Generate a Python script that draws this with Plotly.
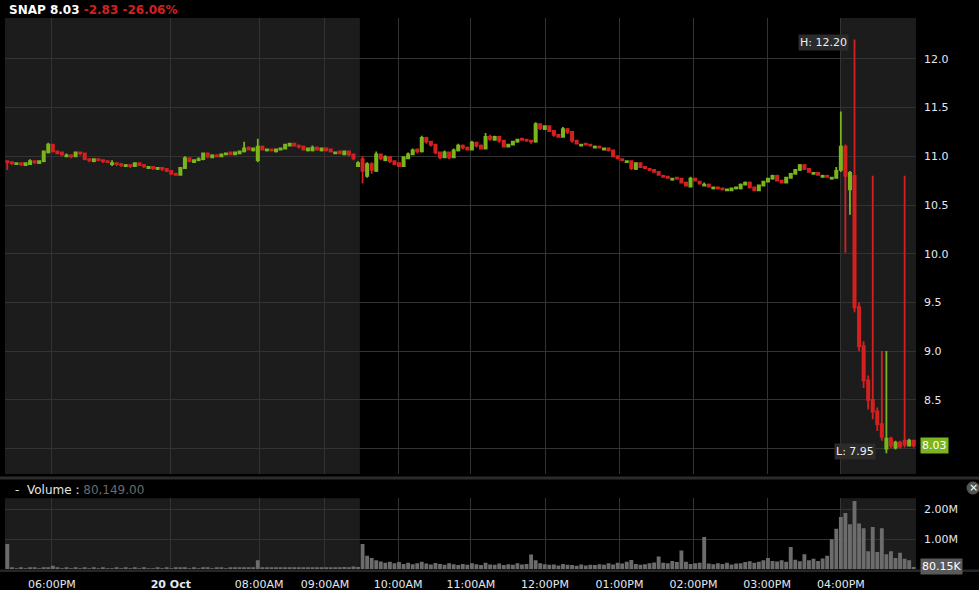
import plotly.graph_objects as go

# ---------------- data (one slot ~ a few minutes) ----------------
opens = [
    10.95, 10.94, 10.92, 10.93, 10.91, 10.92, 10.95, 10.93, 10.95, 11.04,
    11.12, 11.05, 11.04, 11.00, 11.01, 11.00, 11.04, 11.03, 10.97, 10.95,
    10.97, 10.96, 10.95, 10.92, 10.93, 10.92, 10.90, 10.91, 10.90, 10.93,
    10.91, 10.88, 10.89, 10.87, 10.88, 10.87, 10.85, 10.82, 10.81, 10.88,
    10.98, 10.94, 10.96, 10.97, 11.03, 10.99, 11.01, 11.00, 11.02, 11.04,
    11.02, 11.03, 11.05, 11.09, 11.06, 10.96, 11.10, 11.06, 11.07, 11.05,
    11.07, 11.08, 11.11, 11.13, 11.11, 11.10, 11.06, 11.06, 11.09, 11.06,
    11.08, 11.07, 11.03, 11.05, 11.02, 11.05, 11.02, 10.90, 10.97, 10.80,
    10.92, 10.85, 11.02, 10.96, 10.99, 10.95, 10.93, 10.90, 10.98, 11.02,
    11.07, 11.05, 11.19, 11.15, 11.12, 11.04, 10.99, 11.04, 10.99, 11.06,
    11.11, 11.09, 11.07, 11.14, 11.11, 11.08, 11.20, 11.17, 11.20, 11.16,
    11.10, 11.12, 11.15, 11.18, 11.17, 11.16, 11.15, 11.33, 11.28, 11.31,
    11.26, 11.22, 11.20, 11.28, 11.25, 11.16, 11.11, 11.13, 11.12, 11.09,
    11.10, 11.07, 11.08, 11.06, 11.00, 10.97, 10.94, 10.95, 10.87, 10.93,
    10.89, 10.87, 10.86, 10.84, 10.80, 10.79, 10.76, 10.78, 10.77, 10.73,
    10.69, 10.77, 10.74, 10.70, 10.71, 10.67, 10.68, 10.67, 10.65, 10.65,
    10.67, 10.67, 10.71, 10.73, 10.68, 10.65, 10.70, 10.74, 10.77, 10.80,
    10.75, 10.73, 10.78, 10.82, 10.86, 10.91, 10.87, 10.82, 10.83, 10.79,
    10.80, 10.77, 10.78, 10.86, 11.10, 10.66, 10.80, 9.45, 9.05, 8.70,
    8.50, 8.38, 8.25, 8.00, 8.10, 8.01, 8.06, 8.08, 8.03, 8.08,
]
highs = [
    10.96, 10.95, 10.94, 10.94, 10.94, 10.97, 10.96, 10.96, 11.06, 11.14,
    11.13, 11.06, 11.05, 11.03, 11.02, 11.05, 11.05, 11.04, 10.98, 10.98,
    10.98, 10.97, 10.96, 10.96, 10.94, 10.93, 10.92, 10.92, 10.94, 10.94,
    10.92, 10.90, 10.90, 10.89, 10.89, 10.88, 10.86, 10.83, 10.89, 11.00,
    10.99, 10.97, 10.99, 11.04, 11.04, 11.02, 11.02, 11.03, 11.04, 11.05,
    11.05, 11.06, 11.15, 11.10, 11.09, 11.18, 11.11, 11.08, 11.08, 11.08,
    11.09, 11.13, 11.14, 11.14, 11.12, 11.11, 11.09, 11.11, 11.10, 11.09,
    11.09, 11.08, 11.05, 11.06, 11.06, 11.06, 11.03, 10.95, 11.00, 10.94,
    10.94, 11.05, 11.03, 11.01, 11.00, 10.96, 10.94, 11.00, 11.04, 11.08,
    11.08, 11.21, 11.20, 11.16, 11.13, 11.05, 11.06, 11.05, 11.08, 11.13,
    11.12, 11.10, 11.16, 11.15, 11.12, 11.24, 11.22, 11.21, 11.21, 11.17,
    11.13, 11.16, 11.18, 11.19, 11.18, 11.17, 11.35, 11.34, 11.32, 11.32,
    11.27, 11.23, 11.30, 11.29, 11.26, 11.17, 11.13, 11.14, 11.13, 11.11,
    11.11, 11.09, 11.09, 11.07, 11.01, 10.98, 10.96, 10.96, 10.94, 10.94,
    10.90, 10.88, 10.87, 10.85, 10.81, 10.80, 10.78, 10.79, 10.78, 10.74,
    10.79, 10.78, 10.75, 10.73, 10.72, 10.69, 10.69, 10.68, 10.67, 10.68,
    10.69, 10.72, 10.74, 10.74, 10.69, 10.71, 10.75, 10.78, 10.81, 10.81,
    10.76, 10.79, 10.83, 10.87, 10.92, 10.92, 10.88, 10.84, 10.84, 10.81,
    10.81, 10.79, 10.89, 11.46, 11.12, 10.85, 12.20, 9.50, 9.10, 8.75,
    10.80, 8.42, 9.00, 9.00, 8.12, 8.08, 8.08, 10.80, 8.10, 8.09,
]
lows = [
    10.86, 10.91, 10.91, 10.90, 10.90, 10.91, 10.92, 10.92, 10.94, 11.03,
    11.04, 11.02, 11.00, 10.99, 10.98, 10.99, 11.01, 10.96, 10.94, 10.94,
    10.95, 10.93, 10.93, 10.90, 10.90, 10.89, 10.89, 10.88, 10.89, 10.90,
    10.88, 10.87, 10.86, 10.86, 10.85, 10.84, 10.81, 10.80, 10.80, 10.87,
    10.94, 10.93, 10.95, 10.96, 10.98, 10.98, 10.99, 10.99, 11.01, 11.01,
    11.01, 11.02, 11.04, 11.06, 11.05, 10.94, 11.06, 11.05, 11.05, 11.04,
    11.06, 11.07, 11.10, 11.10, 11.08, 11.06, 11.05, 11.05, 11.06, 11.05,
    11.05, 11.04, 11.02, 11.02, 11.01, 11.00, 10.96, 10.89, 10.72, 10.78,
    10.82, 10.84, 10.96, 10.95, 10.93, 10.91, 10.89, 10.89, 10.97, 11.01,
    11.03, 11.04, 11.13, 11.10, 11.02, 10.97, 10.98, 10.97, 10.98, 11.05,
    11.07, 11.06, 11.06, 11.09, 11.07, 11.07, 11.16, 11.16, 11.14, 11.09,
    11.09, 11.11, 11.14, 11.16, 11.15, 11.13, 11.14, 11.27, 11.27, 11.25,
    11.20, 11.19, 11.19, 11.23, 11.14, 11.12, 11.10, 11.11, 11.10, 11.08,
    11.08, 11.06, 11.05, 10.99, 10.97, 10.95, 10.93, 10.86, 10.86, 10.88,
    10.87, 10.85, 10.83, 10.80, 10.78, 10.77, 10.75, 10.76, 10.72, 10.69,
    10.68, 10.74, 10.71, 10.69, 10.68, 10.66, 10.66, 10.65, 10.64, 10.64,
    10.66, 10.66, 10.70, 10.67, 10.64, 10.64, 10.69, 10.73, 10.76, 10.74,
    10.72, 10.72, 10.77, 10.81, 10.85, 10.86, 10.83, 10.81, 10.80, 10.78,
    10.78, 10.76, 10.77, 10.84, 10.01, 10.40, 9.40, 9.00, 8.62, 8.40,
    8.30, 8.18, 8.08, 7.95, 8.00, 7.99, 8.00, 8.01, 8.02, 8.01,
]
closes = [
    10.94, 10.93, 10.93, 10.92, 10.93, 10.95, 10.94, 10.95, 11.05, 11.12,
    11.05, 11.03, 11.02, 11.01, 11.00, 11.04, 11.03, 10.97, 10.96, 10.97,
    10.96, 10.95, 10.94, 10.93, 10.92, 10.91, 10.91, 10.90, 10.93, 10.91,
    10.90, 10.89, 10.88, 10.88, 10.87, 10.85, 10.82, 10.81, 10.88, 10.98,
    10.95, 10.96, 10.97, 11.03, 11.00, 11.01, 11.00, 11.02, 11.03, 11.02,
    11.04, 11.05, 11.08, 11.07, 11.08, 11.10, 11.07, 11.07, 11.06, 11.07,
    11.08, 11.12, 11.13, 11.11, 11.10, 11.07, 11.08, 11.09, 11.07, 11.08,
    11.06, 11.05, 11.04, 11.03, 11.05, 11.02, 10.98, 10.93, 10.85, 10.92,
    10.86, 11.02, 10.98, 10.99, 10.95, 10.92, 10.90, 10.99, 11.02, 11.06,
    11.05, 11.19, 11.15, 11.12, 11.04, 10.99, 11.04, 10.99, 11.06, 11.11,
    11.09, 11.07, 11.14, 11.11, 11.08, 11.20, 11.18, 11.20, 11.16, 11.10,
    11.12, 11.15, 11.17, 11.17, 11.16, 11.15, 11.33, 11.29, 11.31, 11.26,
    11.22, 11.20, 11.28, 11.25, 11.16, 11.13, 11.12, 11.12, 11.11, 11.10,
    11.09, 11.08, 11.06, 11.00, 10.98, 10.96, 10.95, 10.88, 10.93, 10.89,
    10.88, 10.86, 10.84, 10.81, 10.79, 10.78, 10.77, 10.77, 10.73, 10.70,
    10.77, 10.75, 10.72, 10.71, 10.69, 10.68, 10.67, 10.66, 10.66, 10.67,
    10.68, 10.71, 10.73, 10.68, 10.65, 10.70, 10.74, 10.77, 10.80, 10.75,
    10.73, 10.78, 10.82, 10.86, 10.91, 10.87, 10.84, 10.83, 10.81, 10.80,
    10.79, 10.78, 10.85, 11.10, 10.80, 10.83, 9.45, 9.05, 8.70, 8.50,
    8.38, 8.25, 8.12, 8.10, 8.03, 8.06, 8.02, 8.04, 8.08, 8.03,
]
volumes_m = [
    0.84, 0.05, 0.03, 0.04, 0.03, 0.05, 0.04, 0.03, 0.04, 0.05,
    0.12, 0.04, 0.03, 0.05, 0.03, 0.04, 0.03, 0.04, 0.03, 0.05,
    0.03, 0.04, 0.03, 0.03, 0.04, 0.03, 0.05, 0.03, 0.04, 0.03,
    0.04, 0.03, 0.03, 0.04, 0.03, 0.04, 0.03, 0.04, 0.05, 0.04,
    0.03, 0.04, 0.03, 0.05, 0.04, 0.03, 0.04, 0.05, 0.03, 0.04,
    0.04, 0.05, 0.06, 0.04, 0.05, 0.30, 0.05, 0.04, 0.06, 0.05,
    0.04, 0.06, 0.05, 0.04, 0.05, 0.06, 0.05, 0.04, 0.06, 0.05,
    0.06, 0.05, 0.07, 0.06, 0.08, 0.07, 0.09, 0.08, 0.84, 0.45,
    0.38, 0.30, 0.26, 0.22, 0.25, 0.20, 0.24, 0.18, 0.22, 0.17,
    0.20, 0.25, 0.19, 0.16, 0.21, 0.18, 0.15, 0.20, 0.17, 0.14,
    0.18, 0.15, 0.20, 0.17, 0.14, 0.22, 0.16, 0.15, 0.19, 0.14,
    0.17, 0.15, 0.20, 0.16, 0.18, 0.49, 0.30, 0.20, 0.17, 0.15,
    0.16, 0.13, 0.18, 0.15, 0.14, 0.12, 0.16, 0.13, 0.15, 0.14,
    0.17, 0.15, 0.20, 0.16, 0.22, 0.19, 0.25, 0.31, 0.18, 0.15,
    0.17, 0.20, 0.23, 0.43, 0.22, 0.20, 0.28, 0.24, 0.63, 0.25,
    0.18, 0.20, 0.22, 1.08, 0.19, 0.17, 0.20, 0.18, 0.22, 0.16,
    0.19, 0.20, 0.24, 0.27, 0.22, 0.25, 0.30, 0.38, 0.28, 0.26,
    0.30, 0.25, 0.74, 0.32, 0.27, 0.50, 0.30, 0.35, 0.28, 0.36,
    0.45, 1.00, 1.35, 1.74, 1.88, 1.50, 2.28, 1.53, 1.37, 0.60,
    1.41, 0.58, 1.37, 0.50, 0.60, 0.38, 0.55, 0.35, 0.30, 0.08,
]

# time-axis labels and where they fall in the slot sequence
tick_pos = [9.8, 35.9, 55.3, 69.75, 85.8, 101.8, 118.05, 134.4, 150.65, 166.8, 183.0]
tick_text = ["06:00PM", "<b>20 Oct</b>", "08:00AM", "09:00AM", "10:00AM", "11:00AM",
             "12:00PM", "01:00PM", "02:00PM", "03:00PM", "04:00PM"]
pre_market_end = 77.4      # 09:30AM
post_market_start = 183.0  # 04:00PM

price_ticks = [8.0, 8.5, 9.0, 9.5, 10.0, 10.5, 11.0, 11.5, 12.0]
vol_ticks = [1.0, 2.0]
vol_tick_text = ["1.00M", "2.00M"]

symbol = "SNAP"
last_price = 8.03
change = -2.83
change_pct = -26.06
last_volume = 80149

assert len(opens) == len(highs) == len(lows) == len(closes) == len(volumes_m) == 200

# ---------------- styling ----------------
W, H = 979, 590
GREEN = "#7ab51d"
RED = "#d42020"
GRID = "#333333"
SHADE = "#1c1c1c"
TXT = "#e2e8f0"
FONT = "DejaVu Sans"


def px(x):
    return x / W


def py(y):
    return 1 - y / H


x_idx = list(range(len(closes)))
n = len(closes)

fig = go.Figure()
fig.add_trace(go.Candlestick(
    x=x_idx, open=opens, high=highs, low=lows, close=closes,
    increasing=dict(line=dict(color=GREEN, width=1.8), fillcolor=GREEN),
    decreasing=dict(line=dict(color=RED, width=1.8), fillcolor=RED),
    whiskerwidth=0, xaxis="x", yaxis="y", hoverinfo="skip", showlegend=False,
))
fig.add_trace(go.Bar(
    x=x_idx, y=volumes_m, marker=dict(color="#6c6c6c", line=dict(width=0)),
    xaxis="x2", yaxis="y2", hoverinfo="skip", showlegend=False,
))

xdom = [px(5), px(916)]
main_dom = [py(474), py(18)]
vol_dom = [py(569.3), py(498.3)]
ylo = 11 - (474 - 156.3) / 97.4
yhi = 11 - (18 - 156.3) / 97.4

shapes = []
for yref in ("y domain", "y2 domain"):
    shapes.append(dict(type="rect", xref="x", yref=yref, x0=-0.5, x1=pre_market_end, y0=0, y1=1,
                       fillcolor=SHADE, line=dict(width=0), layer="below"))
    shapes.append(dict(type="rect", xref="x", yref=yref, x0=post_market_start, x1=n - 0.5, y0=0, y1=1,
                       fillcolor=SHADE, line=dict(width=0), layer="below"))
# panel separators
shapes.append(dict(type="rect", xref="paper", yref="paper", x0=0, x1=1, y0=py(479.5), y1=py(476.5),
                   fillcolor="#2c2c2c", line=dict(width=0)))
shapes.append(dict(type="rect", xref="paper", yref="paper", x0=0, x1=1, y0=py(572), y1=py(569.5),
                   fillcolor="#262626", line=dict(width=0)))
# close button
shapes.append(dict(type="circle", xref="paper", yref="paper", x0=px(966.5), x1=px(979.5),
                   y0=py(494.5), y1=py(481.5), fillcolor="#555555", line=dict(width=0)))

i_hi = max(range(n), key=lambda i: highs[i])
i_lo = min(range(n), key=lambda i: lows[i])

annotations = [
    dict(xref="paper", yref="paper", x=px(7), y=py(9.5), xanchor="left", yanchor="middle",
         showarrow=False,
         text=f"<b>{symbol} {last_price:.2f} <span style='color:{RED}'>{change:.2f} {change_pct:.2f}%</span></b>",
         font=dict(family=FONT, size=12, color="#ffffff")),
    dict(xref="paper", yref="paper", x=px(13), y=py(490), xanchor="left", yanchor="middle",
         showarrow=False,
         text=f"-  Volume : <span style='color:#6a6a6a'>{last_volume:,.2f}</span>",
         font=dict(family=FONT, size=12, color="#e6e6e6")),
    dict(xref="x", yref="y", x=i_hi, y=highs[i_hi], xanchor="right", yanchor="middle",
         xshift=-6, yshift=-3, showarrow=False, text=f"H: {highs[i_hi]:.2f}",
         bgcolor="#2b2b2b", borderpad=1, font=dict(family=FONT, size=11, color="#eeeeee")),
    dict(xref="x", yref="y", x=i_lo, y=lows[i_lo], xanchor="right", yanchor="middle",
         xshift=-10, yshift=2, showarrow=False, text=f"L: {lows[i_lo]:.2f}",
         bgcolor="#2b2b2b", borderpad=1, font=dict(family=FONT, size=11, color="#eeeeee")),
    dict(xref="paper", yref="y", x=px(920), y=last_price, xanchor="left", yanchor="middle",
         showarrow=False, text=f"{last_price:.2f}", bgcolor=GREEN, borderpad=1,
         font=dict(family=FONT, size=11, color="#ffffff")),
    dict(xref="paper", yref="y2", x=px(920), y=last_volume / 1e6, xanchor="left", yanchor="middle",
         showarrow=False, text=f"{last_volume / 1000:.2f}K", bgcolor="#5a5a5a", borderpad=1,
         font=dict(family=FONT, size=11, color="#ffffff")),
    dict(xref="paper", yref="paper", x=px(973), y=py(488), xanchor="center", yanchor="middle",
         showarrow=False, text="×", font=dict(family=FONT, size=11, color="#ffffff")),
]

# the 8.0 label is hidden under the last-price box in the reference
price_tick_text = ["" if abs(v - 8.0) < 1e-9 else f"{v:.1f}" for v in price_ticks]

fig.update_layout(
    width=W, height=H, margin=dict(l=0, r=0, t=0, b=0),
    paper_bgcolor="#000000", plot_bgcolor="#000000",
    showlegend=False, bargap=0.15, hovermode=False,
    shapes=shapes, annotations=annotations,
    xaxis=dict(domain=xdom, anchor="y", range=[-0.5, n - 0.5], tickvals=tick_pos,
               showticklabels=False, showgrid=True, gridcolor=GRID, gridwidth=1,
               zeroline=False, showline=False, ticks="", rangeslider=dict(visible=False),
               fixedrange=True),
    yaxis=dict(domain=main_dom, anchor="x", range=[ylo, yhi], side="right",
               tickvals=price_ticks, ticktext=price_tick_text,
               showgrid=True, gridcolor=GRID, gridwidth=1, zeroline=False, showline=False,
               ticks="", ticklabelstandoff=7, tickfont=dict(family=FONT, size=11, color=TXT),
               fixedrange=True),
    xaxis2=dict(domain=xdom, anchor="y2", matches="x", range=[-0.5, n - 0.5],
                tickvals=tick_pos, ticktext=tick_text, showgrid=True, gridcolor=GRID,
                zeroline=False, showline=False, ticks="", ticklabelstandoff=7,
                tickfont=dict(family=FONT, size=11, color=TXT), fixedrange=True),
    yaxis2=dict(domain=vol_dom, anchor="x2", range=[0, 2.367], side="right",
                tickvals=vol_ticks, ticktext=vol_tick_text, showgrid=True, gridcolor=GRID,
                zeroline=False, showline=False, ticks="", ticklabelstandoff=7,
                tickfont=dict(family=FONT, size=11, color=TXT), fixedrange=True),
)

fig.write_html("out.html", config={"displayModeBar": False},
               post_script="document.body.style.margin='0px';document.body.style.padding='0px';")
